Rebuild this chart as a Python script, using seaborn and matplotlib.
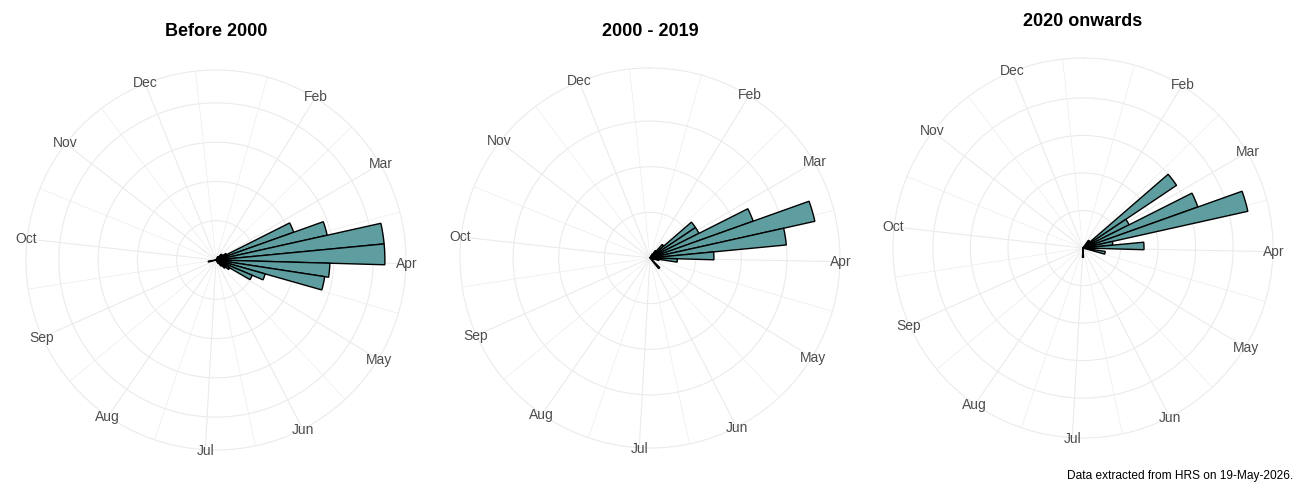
import numpy as np
import matplotlib
matplotlib.use("Agg")
import matplotlib.pyplot as plt
import seaborn as sns

# month labels (Jan is not labelled in the original) and day-of-year of the 1st
months = ["Feb", "Mar", "Apr", "May", "Jun", "Jul", "Aug", "Sep", "Oct", "Nov", "Dec"]
month_start = [32, 60, 91, 121, 152, 182, 213, 244, 274, 305, 335]
minor_days = [16.5, 46, 75.5, 106, 136.5, 167, 197.5, 228.5, 259, 289.5, 320, 350.5]

# weekly counts per period (week of year)
weeks_pre2000 = [5, 6, 7, 8, 9, 10, 11, 12, 13, 14, 15, 16, 17, 18, 19, 20, 21, 37]
n_pre2000 = [1, 1, 2, 2, 3, 21, 29, 43, 43, 29, 28, 13, 10, 4, 3, 2, 1, 2]

weeks_2000_2019 = [5, 6, 7, 8, 9, 10, 11, 12, 13, 14, 15, 16, 20]
n_2000_2019 = [1, 2, 4, 12, 12, 24, 37, 30, 14, 6, 2, 1, 3]

weeks_2020 = [6, 7, 8, 9, 10, 11, 12, 13, 14, 15, 26]
n_2020 = [1, 1, 12, 5.5, 13, 18, 3.2, 6.5, 1, 2.4, 1]

titles = ["Before 2000", "2000 - 2019", "2020 onwards"]
breaks = [[10, 20, 30, 40], [10, 20, 30], [4, 8, 12, 16]]
caption = "Data extracted from HRS on 19-May-2026."

DAY0 = 1.0
SPAN = 355.6
FILL = "#5F9EA0"
GRID = "#EBEBEB"


def to_theta(day):
    return (np.asarray(day, dtype=float) - DAY0) / SPAN * 2 * np.pi


sns.set_theme(style="white")
plt.rcParams['font.family'] = ['Liberation Sans', 'DejaVu Sans']

W, H = 1300, 500
fig = plt.figure(figsize=(13, 5), dpi=100)

centers = [(216, 260), (650, 258), (1083, 248)]
title_y = [31, 31, 22]
R = 190

data = [(weeks_pre2000, n_pre2000), (weeks_2000_2019, n_2000_2019), (weeks_2020, n_2020)]

for i, (wk, n) in enumerate(data):
    cx, cy = centers[i]
    ax = fig.add_axes([(cx - R) / W, 1 - (cy + R) / H, 2 * R / W, 2 * R / H], projection="polar")
    ax.set_theta_zero_location("N")
    ax.set_theta_direction(-1)

    theta = to_theta(7 * np.array(wk) - 3)
    sns.barplot(x=theta, y=n, ax=ax, native_scale=True, width=1, color=FILL,
                saturation=1, edgecolor="black", linewidth=1.0, errorbar=None, zorder=3)

    rmax = max(n) * 1.125
    ax.set_xlim(0, 2 * np.pi)
    ax.set_ylim(0, rmax)
    ax.set(xlabel="", ylabel="")

    ax.set_yticks(breaks[i])
    ax.set_yticklabels([])
    ax.set_xticks(to_theta(month_start))
    ax.set_xticklabels([])
    ax.set_xticks(to_theta(minor_days), minor=True)
    ax.tick_params(axis="both", which="both", length=0)
    ax.grid(True, which="major", color=GRID, linewidth=0.8)
    ax.xaxis.grid(True, which="minor", color=GRID, linewidth=0.45)
    ax.spines["polar"].set_color(GRID)
    ax.spines["polar"].set_linewidth(0.8)
    ax.set_facecolor("white")
    ax.set_axisbelow(True)

    # month labels sit centred on the outer ring
    for lab, th in zip(months, to_theta(month_start)):
        ax.text(th, rmax * 1.005, lab, ha="center", va="center", fontsize=10,
                color="#4D4D4D", clip_on=False, zorder=4)

    fig.text(cx / W, 1 - title_y[i] / H, titles[i], ha="center", va="center",
             fontsize=13, fontweight="bold", color="black")

fig.text(1293 / W, 1 - 476 / H, caption, ha="right", va="center", fontsize=8.6, color="black")

fig.savefig("out.png", dpi=100, facecolor="white")
